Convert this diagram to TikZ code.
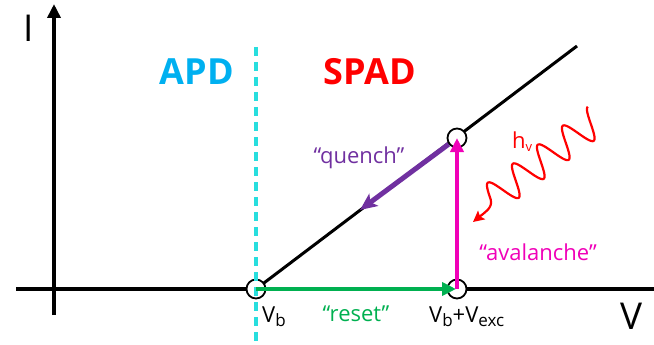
\documentclass[tikz,border=0pt]{standalone}
\usepackage{fontspec}
\setmainfont{Open Sans}
\usetikzlibrary{arrows.meta}
\definecolor{apdcyan}{RGB}{0,176,240}
\definecolor{dashcyan}{RGB}{40,222,222}
\definecolor{spadred}{RGB}{255,0,0}
\definecolor{qpurple}{RGB}{112,48,160}
\definecolor{rgreen}{RGB}{0,176,80}
\definecolor{amag}{RGB}{240,0,184}
\newcommand\lowsub[2]{\raisebox{-#2}{\fontsize{17}{17}\selectfont #1}}
\tikzset{
  axisline/.style={line width=4pt},
  statecirc/.style={circle, draw, fill=white, line width=1.8pt, minimum size=19pt, inner sep=0pt},
  bigtxt/.style={font=\fontsize{37}{40}\selectfont},
  regiontxt/.style={font=\bfseries\fontsize{36}{38}\selectfont},
  lbl/.style={font=\fontsize{22}{25}\selectfont, inner sep=0pt},
  transarrow/.style={line width=4.5pt, -{Triangle[length=14pt,width=13pt]}},
}
\begin{document}
\begin{tikzpicture}[x=1pt,y=-1pt]
\useasboundingbox (0,0) rectangle (654,345);
% coordinates
\coordinate (xl) at (16,289);
\coordinate (xr) at (654,289);
\coordinate (yb) at (54,315);
\coordinate (yt) at (54,4);
\coordinate (Pb) at (256,289);
\coordinate (Px) at (457,289);
\coordinate (Pt) at (457,138);
\coordinate (Dend) at (577,46);
\coordinate (dtop) at (256,47);
\coordinate (dbot) at (256,345);
\coordinate (qtip) at (360,210);
\coordinate (wtip) at (473,222);
% axes
\draw[axisline] (xl) -- (xr);
\draw[axisline, -{Triangle[length=14pt,width=13pt]}] (yb) -- (yt);
% characteristic line
\draw[line width=3pt] (Pb) -- (Dend);
% state circles
\node[statecirc] (vb) at (Pb) {};
\node[statecirc] (vx) at (Px) {};
\node[statecirc] (top) at (Pt) {};
% dashed breakdown line
\draw[dashcyan, line width=3.5pt, dash pattern=on 9pt off 6pt] (dtop) -- (dbot);
% transitions
\draw[transarrow, rgreen, shorten >=1pt] (vb.center) -- (vx.center);
\draw[transarrow, amag, line width=4pt] (vx.center) -- (top.center);
\draw[qpurple, line width=5pt, -{Stealth[length=17pt,width=15pt,inset=4pt]}] (top) -- (qtip);
% photon
\draw[spadred, line width=2.2pt, -{Stealth[length=11pt,width=11pt,inset=2pt]}]
  plot[domain=0:133.45, samples=160, smooth, variable=\t]
  ({597-0.796*\t-9.2*cos(11.465*\t)}, {119+0.605*\t-12.3*cos(11.465*\t)})
  .. controls (493,208) and (484,213) .. (wtip);
% labels
\node[bigtxt] (Ilab) at (29,28) {I};
\node[bigtxt] (Vlab) at (632,316) {V};
\node[regiontxt, text=apdcyan] (apd) at (197,72) {APD};
\node[regiontxt, text=spadred] (spad) at (370,72) {SPAD};
\node[lbl, text=qpurple] (qlab) at (359,158) {“quench”};
\node[lbl, text=amag] (alab) at (538,252) {“avalanche”};
\node[lbl, text=rgreen] (rlab) at (356,314) {“reset”};
\node[lbl, anchor=base west] (vblab) at (262,322) {V\lowsub{b}{4pt}};
\node[lbl, anchor=base west] (vxlab) at (429,322) {V\lowsub{b}{4pt}+V\lowsub{exc}{4pt}};
\node[lbl, text=spadred, anchor=base west] (hvlab) at (512,148) {h\raisebox{-3pt}{\fontsize{13}{13}\selectfont v}};
\end{tikzpicture}
\end{document}
